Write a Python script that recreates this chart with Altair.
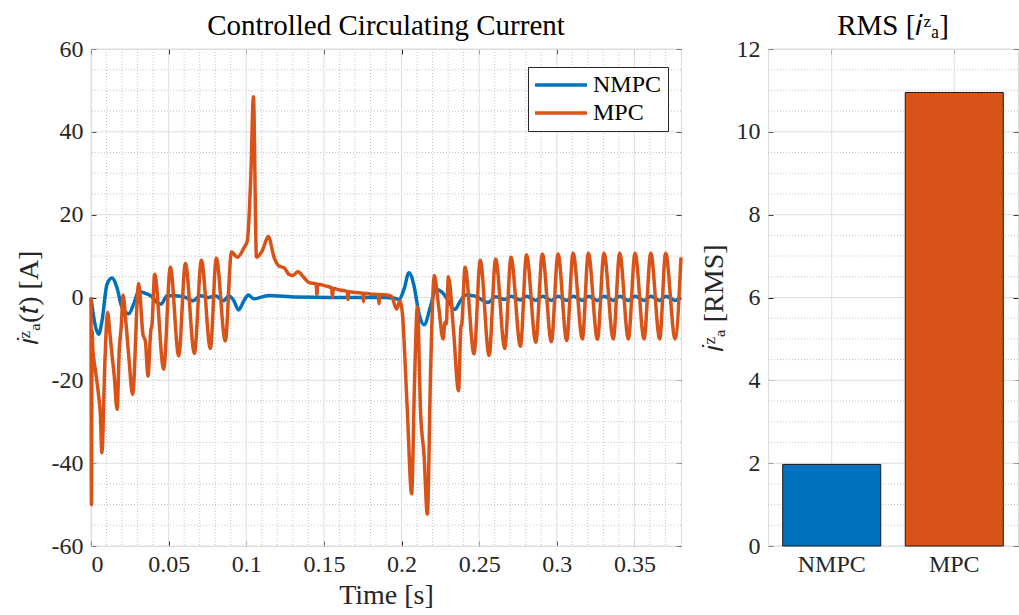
import altair as alt
import pandas as pd

FONT = "Liberation Serif"
BLUE = "#0072BD"
ORANGE = "#D95319"
AXC = "#262626"
GRID_MAJ = "#dedede"
GRID_MIN = "#c4c4c4"

# ---------------- data ----------------
t_nmpc = [0.0000, 0.0021, 0.0049, 0.0071, 0.0103, 0.0135, 0.0167, 0.0200, 0.0243, 0.0275,
          0.0307, 0.0350, 0.0393, 0.0425, 0.0451, 0.0490, 0.0530, 0.0597, 0.0657, 0.0704,
          0.0758, 0.0800, 0.0855, 0.0887, 0.0920, 0.0950, 0.0985, 0.1013, 0.1048, 0.1146,
          0.1318, 0.1600, 0.1887, 0.1955, 0.1984, 0.2016, 0.2048, 0.2080, 0.2113, 0.2145,
          0.2188, 0.2220, 0.2263, 0.2305, 0.2342, 0.2380, 0.2413, 0.2467, 0.2510, 0.2557,
          0.2606, 0.2665, 0.2705, 0.2766, 0.2805, 0.2865, 0.2907, 0.2965, 0.3008, 0.3064,
          0.3105, 0.3165, 0.3203, 0.3262, 0.3304, 0.3364, 0.3405, 0.3461, 0.3504, 0.3562,
          0.3605, 0.3663, 0.3701, 0.3762, 0.3800]
i_nmpc = [0.0, -5.6, -8.9, -5.6, 3.2, 4.7, 2.4, -2.4, -3.9, -1.6,
          1.5, 1.0, 0.2, -1.2, -1.6, 0.4, 0.4, 0.2, -0.8, 0.4,
          0.0, 0.4, -0.8, 0.4, -0.8, -3.0, -0.8, 0.6, -0.3, 0.5,
          0.1, 0.0, 0.0, -0.2, -0.5, 2.0, 6.0, 2.9, -4.0, -6.6,
          -2.0, 2.0, 1.2, -1.0, -2.9, -0.8, 0.6, 0.4, -0.4, -1.2,
          0.2, -0.5, 0.3, -0.6, 0.3, -0.7, 0.3, -0.7, 0.3, -0.7,
          0.3, -0.7, 0.3, -0.7, 0.3, -0.7, 0.3, -0.7, 0.3, -0.7,
          0.3, -0.7, 0.3, -0.7, 0.0]

t_mpc = [0.0000, 0.0003, 0.0007, 0.0012, 0.0030, 0.0050, 0.0060, 0.0070, 0.0090, 0.0107,
         0.0120, 0.0135, 0.0150, 0.0168, 0.0183, 0.0189, 0.0195, 0.0206, 0.0225, 0.0245,
         0.0268, 0.0307, 0.0335, 0.0350, 0.0367, 0.0385, 0.0393, 0.0410, 0.0468, 0.0511,
         0.0565, 0.0608, 0.0666, 0.0711, 0.0769, 0.0807, 0.0865, 0.0905, 0.0943, 0.0985,
         0.1007, 0.1030, 0.1046, 0.1066, 0.1103, 0.1142, 0.1179, 0.1211, 0.1243, 0.1275,
         0.1300, 0.1332, 0.1372, 0.1404, 0.1450, 0.1455, 0.1460, 0.1511, 0.1550, 0.1555,
         0.1560, 0.1605, 0.1650, 0.1655, 0.1660, 0.1705, 0.1750, 0.1755, 0.1760, 0.1805,
         0.1850, 0.1855, 0.1860, 0.1900, 0.1935, 0.1968, 0.1990, 0.2005, 0.2037, 0.2065,
         0.2084, 0.2102, 0.2123, 0.2145, 0.2166, 0.2188, 0.2211, 0.2240, 0.2268, 0.2280,
         0.2288, 0.2302, 0.2335, 0.2367, 0.2383, 0.2388, 0.2409, 0.2467, 0.2507, 0.2564,
         0.2606, 0.2665, 0.2705, 0.2766, 0.2805, 0.2865, 0.2907, 0.2965, 0.3008, 0.3064,
         0.3105, 0.3165, 0.3203, 0.3262, 0.3304, 0.3364, 0.3405, 0.3461, 0.3504, 0.3562,
         0.3605, 0.3663, 0.3701, 0.3762, 0.3800]
i_mpc = [0.0, -50.0, -8.0, -12.5, -18.0, -24.0, -28.0, -37.5, -15.0, -3.6,
         -8.0, -13.7, -19.0, -27.0, -12.0, -9.3, -7.0, 0.6, -6.0, -15.0,
         -23.4, 3.4, -9.0, -10.5, -19.0, -8.0, -6.5, 5.6, -17.3, 7.3,
         -14.1, 8.2, -13.5, 9.0, -12.3, 9.5, -10.5, 11.0, 9.7, 12.0,
         13.7, 30.0, 48.5, 9.7, 11.3, 14.7, 9.7, 7.6, 7.2, 5.6,
         5.3, 6.2, 4.8, 3.6, 3.3, 0.7, 3.2, 2.8, 2.3, 0.0,
         2.2, 1.8, 1.5, -0.5, 1.4, 1.2, 1.0, -1.0, 1.0, 0.8,
         0.7, -1.5, 0.7, 0.6, 0.3, -2.8, -0.8, -3.6, -27.0, -47.4,
         -20.0, -2.2, -28.0, -38.0, -52.3, -16.5, 5.3, -2.5, -10.0, -6.0,
         -6.4, 5.0, -8.0, -22.5, -7.0, -6.5, 7.3, -13.6, 9.0, -14.0,
         9.3, -12.3, 9.7, -11.8, 10.3, -10.8, 10.5, -10.7, 10.5, -10.4,
         10.7, -10.0, 10.7, -10.1, 10.7, -10.0, 10.7, -10.0, 10.7, -10.0,
         10.7, -10.0, 10.7, -10.0, 9.7]

series_names = ["NMPC", "MPC"]
rms_values = [1.97, 10.95]

x_major = [0, 0.05, 0.1, 0.15, 0.2, 0.25, 0.3, 0.35]
x_minor = [0.01, 0.02, 0.03, 0.04, 0.06, 0.07, 0.08, 0.09, 0.11, 0.12, 0.13, 0.14,
           0.16, 0.17, 0.18, 0.19, 0.21, 0.22, 0.23, 0.24, 0.26, 0.27, 0.28, 0.29,
           0.31, 0.32, 0.33, 0.34, 0.36, 0.37]
y_major = [-60, -40, -20, 0, 20, 40, 60]
y_minor = [-55, -50, -45, -35, -30, -25, -15, -10, -5, 5, 10, 15, 25, 30, 35, 45, 50, 55]
r_major = [0, 2, 4, 6, 8, 10, 12]
r_minor = [0.5, 1, 1.5, 2.5, 3, 3.5, 4.5, 5, 5.5, 6.5, 7, 7.5, 8.5, 9, 9.5, 10.5, 11, 11.5]

# ---------------- tables ----------------
df_lines = pd.concat([
    pd.DataFrame({"t": t_nmpc, "i": i_nmpc, "series": "NMPC"}),
    pd.DataFrame({"t": t_mpc, "i": i_mpc, "series": "MPC"}),
], ignore_index=True)
df_rms = pd.DataFrame({"cat": series_names, "val": rms_values})

LAB = dict(labelFont=FONT, labelFontSize=24, labelColor=AXC,
           titleFont=FONT, titleFontSize=28, titleColor=AXC, titleFontWeight="normal")
MINUS = "datum.value < 0 ? '-' + (-datum.value) : '' + datum.value"

xs = alt.Scale(domain=[0, 0.38], nice=False, zero=False)
ys = alt.Scale(domain=[-60, 60], nice=False, zero=False)

tick_only = dict(labels=False, ticks=True, tickSize=5, offset=-5, domain=False, grid=False,
                 tickColor=AXC, tickWidth=1)

minor_vx = alt.Chart(pd.DataFrame({"v": x_minor})).mark_rule(
    color=GRID_MIN, strokeDash=[1, 2], strokeWidth=1).encode(
    x=alt.X("v:Q", scale=xs, axis=None))
minor_hy = alt.Chart(pd.DataFrame({"v": y_minor})).mark_rule(
    color=GRID_MIN, strokeDash=[1, 2], strokeWidth=1).encode(
    y=alt.Y("v:Q", scale=ys, axis=None))
major_vx = alt.Chart(pd.DataFrame({"v": x_major})).mark_rule(
    color=GRID_MAJ, strokeWidth=1).encode(
    x=alt.X("v:Q", scale=xs, title=None,
            axis=alt.Axis(orient="top", values=x_major, **tick_only)))
major_hy = alt.Chart(pd.DataFrame({"v": y_major})).mark_rule(
    color=GRID_MAJ, strokeWidth=1).encode(
    y=alt.Y("v:Q", scale=ys, title=None,
            axis=alt.Axis(orient="right", values=y_major, **tick_only)))

color_enc = alt.Color("series:N", scale=alt.Scale(domain=series_names, range=[BLUE, ORANGE]),
                      legend=alt.Legend(title=None, orient="none", legendX=437, legendY=18,
                                        direction="vertical", fillColor="white",
                                        strokeColor=AXC, padding=6,
                                        labelFont=FONT, labelFontSize=24, labelColor="#000",
                                        symbolType="M-4,0H4", symbolSize=169,
                                        symbolStrokeWidth=3.5, symbolOffset=15,
                                        labelOffset=20, rowPadding=4, cornerRadius=0))

line_n = alt.Chart(df_lines).transform_filter(alt.datum.series == "NMPC").mark_line(
    strokeWidth=3.5, interpolate="monotone").encode(
    x=alt.X("t:Q", scale=xs, title="Time [s]",
            axis=alt.Axis(orient="bottom", values=x_major, format="~g", labelPadding=6,
                          titlePadding=5, ticks=True, tickSize=5, offset=-5, domain=False,
                          grid=False, tickColor=AXC, **LAB)),
    y=alt.Y("i:Q", scale=ys, title="𝑖ᶻₐ(𝑡) [A]",
            axis=alt.Axis(orient="left", values=y_major, labelExpr=MINUS, labelPadding=8,
                          titlePadding=8, ticks=True, tickSize=5, offset=-5, domain=False,
                          grid=False, tickColor=AXC, **LAB)),
    color=color_enc)
line_m = alt.Chart(df_lines).transform_filter(alt.datum.series == "MPC").mark_line(
    strokeWidth=3.5, interpolate="monotone").encode(
    x=alt.X("t:Q", scale=xs, axis=None),
    y=alt.Y("i:Q", scale=ys, axis=None),
    color=color_enc)

left = alt.layer(minor_vx, minor_hy, major_vx, major_hy, line_n, line_m).resolve_axis(
    x="independent", y="independent").properties(
    width=590, height=497,
    title=alt.Title("Controlled Circulating Current", font=FONT, fontSize=29,
                    fontWeight="normal", color="#000", offset=-4, frame="group",
                    anchor="middle"))

# ---------------- right panel ----------------
rs = alt.Scale(domain=[0, 12], nice=False, zero=True)
bs = alt.Scale(domain=series_names, paddingInner=0.2, paddingOuter=0.12)

r_minor_l = alt.Chart(pd.DataFrame({"v": r_minor})).mark_rule(
    color=GRID_MIN, strokeDash=[1, 2], strokeWidth=1).encode(
    y=alt.Y("v:Q", scale=rs, axis=None))
r_major_l = alt.Chart(pd.DataFrame({"v": r_major})).mark_rule(
    color=GRID_MAJ, strokeWidth=1).encode(
    y=alt.Y("v:Q", scale=rs, title=None,
            axis=alt.Axis(orient="right", values=r_major, **tick_only)))
r_vgrid = alt.Chart(pd.DataFrame({"cat": series_names})).mark_rule(
    color=GRID_MAJ, strokeWidth=1).encode(
    x=alt.X("cat:N", scale=bs, sort=series_names, title=None,
            axis=alt.Axis(orient="top", **tick_only)))
bars = alt.Chart(df_rms).mark_bar(stroke="#1a1a1a", strokeWidth=1).encode(
    x=alt.X("cat:N", scale=bs, sort=series_names, title=None,
            axis=alt.Axis(orient="bottom", labelAngle=0, labelPadding=6, ticks=True,
                          tickSize=5, offset=-5, domain=False, grid=False, tickColor=AXC,
                          **LAB)),
    y=alt.Y("val:Q", scale=rs, title="𝑖ᶻₐ [RMS]",
            axis=alt.Axis(orient="left", values=r_major, labelPadding=8, titlePadding=8,
                          ticks=True, tickSize=5, offset=-5, domain=False, grid=False,
                          tickColor=AXC, **LAB)),
    color=alt.Color("cat:N", scale=alt.Scale(domain=series_names, range=[BLUE, ORANGE]),
                    legend=None))

right = alt.layer(r_minor_l, r_major_l, r_vgrid, bars).resolve_axis(
    x="independent", y="independent").properties(
    width=250, height=497,
    title=alt.Title("RMS [𝑖ᶻₐ]", font=FONT, fontSize=29, fontWeight="normal",
                    color="#000", offset=-4, frame="group", anchor="middle"))

chart = alt.hconcat(left, right, spacing=10).resolve_scale(color="independent").properties(
    padding={"left": 14, "top": 11, "right": 0, "bottom": 0},
    background="white").configure_view(stroke=AXC, strokeWidth=1).configure(
    font=FONT).configure_title(font=FONT).configure_axis(labelFont=FONT, titleFont=FONT
    ).configure_legend(labelFont=FONT)

chart.save("out.html", embed_options={"renderer": "svg", "actions": False})
